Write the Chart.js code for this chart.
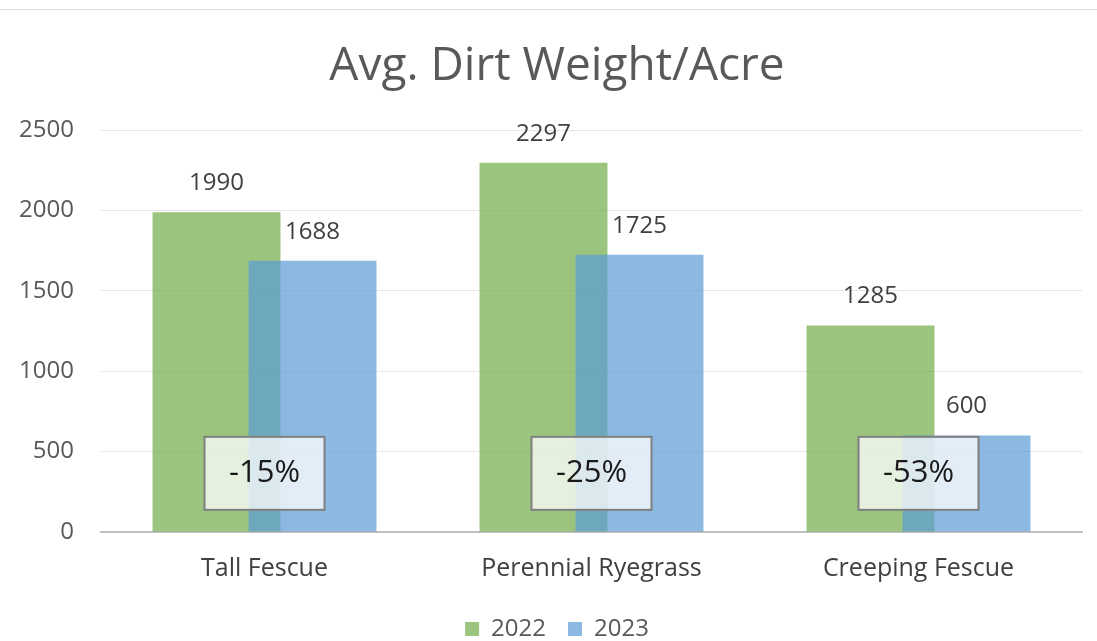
<!DOCTYPE html>
<html>
<head>
<meta charset="utf-8">
<script src="https://cdn.jsdelivr.net/npm/chart.js@4.4.1/dist/chart.umd.min.js"></script>
<style>
  html, body { margin: 0; padding: 0; background: #fff; overflow: hidden; }
  #wrap { position: relative; width: 1097px; height: 641px; }
  #topline { position: absolute; left: 0; top: 9px; width: 1097px; height: 1px; background: #dcdcdc; }
  canvas { display: block; }
</style>
</head>
<body>
<div id="wrap">
  <div id="topline"></div>
  <canvas id="c" width="1097" height="641"></canvas>
</div>
<script>
// data
const categories = ["Tall Fescue", "Perennial Ryegrass", "Creeping Fescue"];
const values2022 = [1990, 2297, 1285];
const values2023 = [1688, 1725, 600];
const changeLabels = ["-15%", "-25%", "-53%"];
const yTicks = [0, 500, 1000, 1500, 2000, 2500];

const GREEN = "rgba(112,173,71,0.7)";
const BLUE = "rgba(91,155,213,0.7)";

Chart.defaults.font.family = "'Open Sans', sans-serif";

// blue bars sit on top of the green ones, plus value labels and % boxes
const overlayPlugin = {
  id: "overlay",
  beforeDatasetDraw(chart, args) {
    if (args.index === 1) return false; // draw later, on top
  },
  afterDatasetsDraw(chart) {
    const ctx = chart.ctx;
    chart.getDatasetMeta(1).controller.draw();

    // value labels
    ctx.save();
    ctx.fillStyle = "#404040";
    ctx.font = "24px 'Open Sans'";
    ctx.textAlign = "center";
    ctx.textBaseline = "middle";
    [0, 1].forEach(di => {
      const meta = chart.getDatasetMeta(di);
      const ds = chart.data.datasets[di];
      meta.data.forEach((bar, i) => {
        ctx.fillText(ds.data[i], bar.x, bar.y - 29);
      });
    });

    // change boxes
    const xs = chart.scales.x, ys = chart.scales.y;
    changeLabels.forEach((txt, i) => {
      const cx = xs.getPixelForValue(i);
      const cy = ys.getPixelForValue(365);
      const w = 120, h = 73;
      ctx.fillStyle = "rgba(255,255,255,0.75)";
      ctx.fillRect(cx - w / 2, cy - h / 2, w, h);
      ctx.strokeStyle = "#7f7f7f";
      ctx.lineWidth = 2;
      ctx.strokeRect(cx - w / 2, cy - h / 2, w, h);
      ctx.fillStyle = "#1a1a1a";
      ctx.font = "31px 'Open Sans'";
      ctx.fillText(txt, cx, cy);
    });
    ctx.restore();
  }
};

new Chart(document.getElementById("c"), {
  type: "bar",
  data: {
    labels: categories,
    datasets: [
      { label: "2022", data: values2022, backgroundColor: GREEN, borderWidth: 0 },
      { label: "2023", data: values2023, backgroundColor: BLUE, borderWidth: 0 }
    ]
  },
  options: {
    responsive: false,
    animation: false,
    categoryPercentage: 0.587,
    barPercentage: 1.333, // bars overlap a bit
    // title + legend look centred a bit right of the canvas, so the box runs past the right edge
    layout: { padding: { top: 16, right: -17, left: 0, bottom: -10 } },
    scales: {
      x: {
        afterFit: s => { s.height = 63; },
        grid: { display: false, drawTicks: false },
        border: { color: "#bfbfbf", width: 2 },
        ticks: { color: "#404040", font: { size: 25 }, padding: 22 }
      },
      y: {
        min: 0,
        max: 2500,
        afterBuildTicks: s => { s.ticks = yTicks.map(v => ({ value: v })); },
        afterFit: s => { s.width = 101; },
        grid: { color: "#e6e6e6", drawTicks: false },
        border: { display: false },
        ticks: { color: "#595959", font: { size: 24 }, padding: 27, callback: v => String(v) }
      },
      yRight: {
        position: "right",
        afterFit: s => { s.width = 32; },
        grid: { display: false, drawTicks: false },
        border: { display: false },
        ticks: { display: false }
      }
    },
    plugins: {
      title: {
        display: true,
        text: "Avg. Dirt Weight/Acre",
        color: "#595959",
        font: { size: 46, weight: "normal" },
        padding: { top: 23, bottom: 36 }
      },
      legend: {
        position: "bottom",
        labels: {
          boxWidth: 14,
          boxHeight: 14,
          color: "#595959",
          font: { size: 24 },
          padding: 22
        }
      },
      tooltip: { enabled: false }
    }
  },
  plugins: [overlayPlugin]
});
</script>
</body>
</html>
